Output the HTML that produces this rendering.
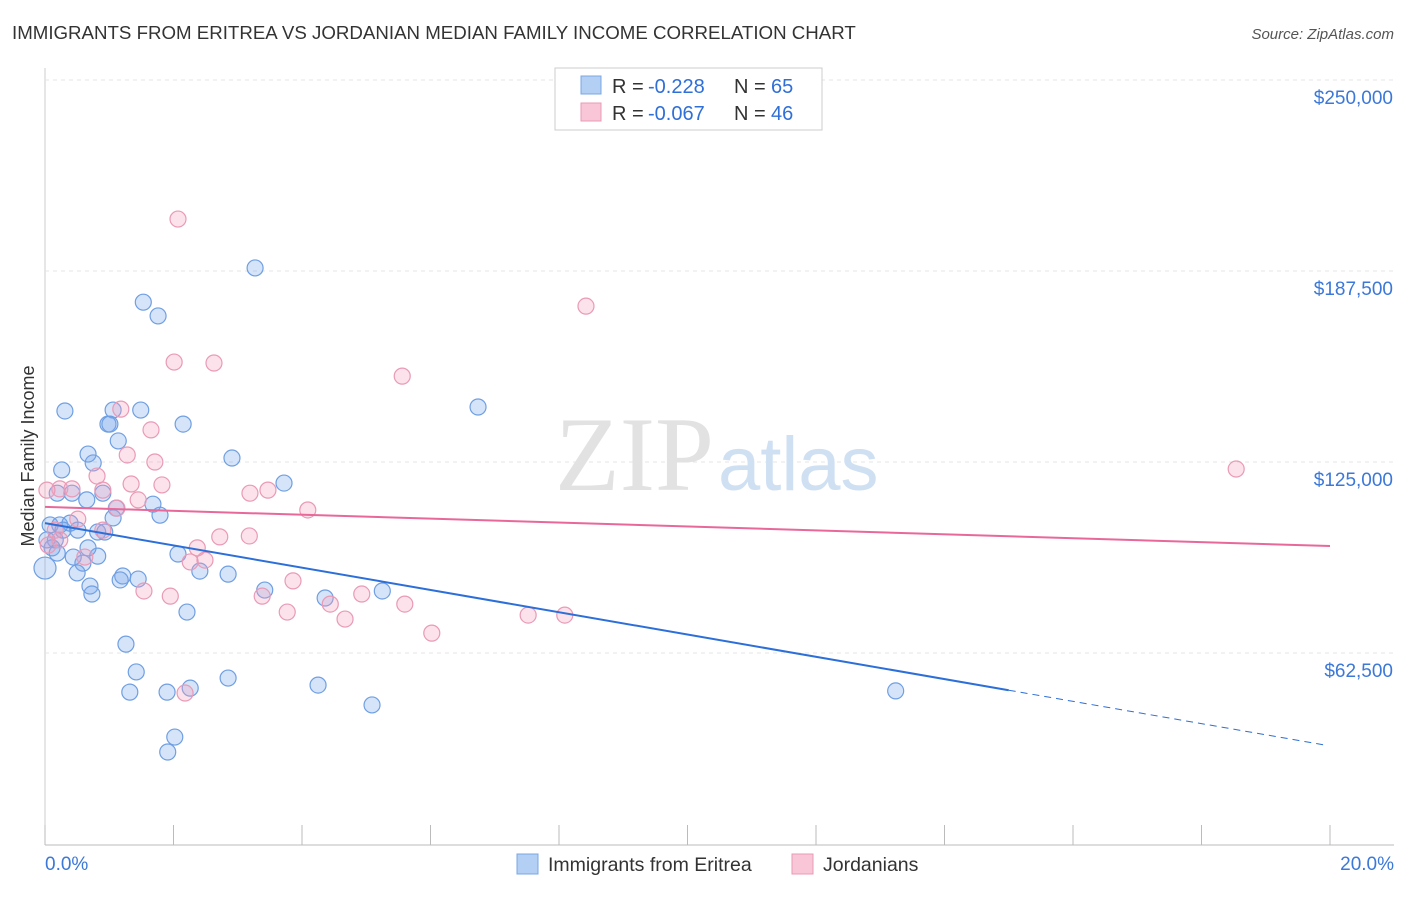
<!DOCTYPE html>
<html><head><meta charset="utf-8"><style>
body{margin:0;background:#fff;font-family:"Liberation Sans",sans-serif;}
</style></head><body>
<svg id="chart" width="1406" height="892" xmlns="http://www.w3.org/2000/svg">
<text x="12" y="39" font-size="18.7" fill="#333">IMMIGRANTS FROM ERITREA VS JORDANIAN MEDIAN FAMILY INCOME CORRELATION CHART</text>
<text x="1394" y="39" font-size="15" fill="#555" font-style="italic" text-anchor="end">Source: ZipAtlas.com</text>
<text transform="translate(34,456) rotate(-90)" font-size="18" fill="#333" text-anchor="middle">Median Family Income</text>
<g id="grid"></g>
<text x="714" y="490" font-size="106" font-family="Liberation Serif,serif" fill="#e2e2e2" text-anchor="end">ZIP</text>
<text x="718" y="490" font-size="76" fill="#cfe0f3">atlas</text>
<g id="pts"></g>
<g id="lines"></g>
<g>
<rect x="555" y="68" width="267" height="62" fill="#fff" stroke="#ccc"/>
<rect x="581" y="76" width="20" height="18" fill="#b3cff3" stroke="#7aa7e3"/>
<text x="612" y="93" font-size="20" fill="#333">R =</text>
<text x="648" y="93" font-size="20" fill="#2f6fd8">-0.228</text>
<text x="734" y="93" font-size="20" fill="#333">N =</text>
<text x="771" y="93" font-size="20" fill="#2f6fd8">65</text>
<rect x="581" y="103" width="20" height="18" fill="#f8c6d6" stroke="#e99ab6"/>
<text x="612" y="120" font-size="20" fill="#333">R =</text>
<text x="648" y="120" font-size="20" fill="#2f6fd8">-0.067</text>
<text x="734" y="120" font-size="20" fill="#333">N =</text>
<text x="771" y="120" font-size="20" fill="#2f6fd8">46</text>
</g>
<g>
<rect x="517" y="854" width="21" height="20" fill="#b3cff3" stroke="#7aa7e3"/>
<text x="548" y="871" font-size="19.5" fill="#333">Immigrants from Eritrea</text>
<rect x="792" y="854" width="21" height="20" fill="#f8c6d6" stroke="#e99ab6"/>
<text x="823" y="871" font-size="19.5" fill="#333">Jordanians</text>
</g>
<text x="45" y="870" font-size="19" fill="#3b78d8">0.0%</text>
<text x="1394" y="870" font-size="19" fill="#3b78d8" text-anchor="end">20.0%</text>
</svg>
<script>
const yTicks=[62500,125000,187500,250000];
const yTickLabels=["$62,500","$125,000","$187,500","$250,000"];
const blueX=[3.27,1.53,1.76,0.31,1.06,1.49,0.98,1.01,2.15,6.74,1.14,0.67,2.91,0.75,0.26,3.72,0.19,0.42,0.90,0.65,1.68,1.11,1.79,1.06,0.08,0.23,0.39,0.51,0.82,0.93,0.28,0.16,0.11,0.82,0.44,2.07,0.59,2.41,2.85,0.50,1.21,1.45,1.17,0.70,0.73,3.42,5.25,4.36,2.21,1.26,1.42,2.85,4.25,2.26,1.32,1.90,13.24,5.09,2.02,1.91,0.0,0.19,0.03,0.67];
const blueY=[188.5,177.3,172.8,141.7,142.0,142.0,137.4,137.4,137.4,143.0,131.9,127.6,126.3,124.7,122.4,118.1,114.8,114.8,114.8,112.6,111.2,109.9,107.6,106.7,104.4,104.4,105.0,102.7,102.1,102.1,102.7,99.5,96.9,94.2,93.9,94.9,91.9,89.3,88.3,88.7,87.7,86.7,86.4,84.4,81.8,83.1,82.8,80.5,75.9,65.4,56.3,54.3,52.0,51.0,49.7,49.7,50.1,45.5,35.0,30.1,90.3,95.2,99.5,96.9];
const pinkX=[2.07,8.42,2.01,2.63,5.56,1.18,1.65,1.28,1.71,18.54,0.81,1.34,1.82,0.23,0.42,0.03,0.90,3.19,3.47,1.45,4.09,1.12,0.51,0.90,0.16,3.18,2.72,2.37,0.62,2.26,2.49,3.86,1.54,1.95,3.38,4.93,5.60,4.44,3.77,4.67,6.02,7.52,8.09,2.18,0.05,0.23];
const pinkY=[204.5,176.0,157.7,157.4,153.1,142.3,135.5,127.3,125.0,122.7,120.4,117.8,117.5,116.2,116.2,115.8,115.8,114.8,115.8,112.6,109.3,109.9,106.3,102.7,102.7,100.8,100.5,96.9,93.9,92.3,92.9,86.1,82.8,81.1,81.1,81.8,78.5,78.5,75.9,73.6,69.0,74.9,74.9,49.4,97.8,99.5];
const blueTrend=[105.0,32.1];
const pinkTrend=[110.3,97.5];
const blueSolidEnd=15.0;
const NS="http://www.w3.org/2000/svg";
const xs=v=>45+v/20*1285;
const ys=v=>844-v/62.5*191;
function mk(t,a,p){const e=document.createElementNS(NS,t);for(const k in a)e.setAttribute(k,a[k]);p.appendChild(e);return e;}
const grid=document.getElementById('grid');
mk('line',{x1:45,y1:845,x2:1394,y2:845,stroke:'#bbb'},grid);
mk('line',{x1:45,y1:68,x2:45,y2:845,stroke:'#ccc'},grid);
mk('line',{x1:45,y1:80,x2:1394,y2:80,stroke:'#ddd','stroke-dasharray':'4,4'},grid);
yTicks.forEach((t,i)=>{const y=ys(t/1000);
const l=mk('line',{x1:45,y1:y,x2:1394,y2:y,stroke:'#e4e4e4','stroke-dasharray':'4,4'},grid);


const tx=mk('text',{x:1393,y:y+24,'font-size':19,fill:'#3b78d8','text-anchor':'end'},grid);
tx.textContent=yTickLabels[i];

});
for(let i=0;i<=10;i++){const x=xs(i*2);const l=mk('line',{x1:x,y1:825,x2:x,y2:845,stroke:'#bbb'},grid);

}
const pts=document.getElementById('pts');
blueX.forEach((x,i)=>{const c=mk('circle',{cx:xs(x),cy:ys(blueY[i]),r:x==0?11:8,fill:'rgba(120,165,235,0.3)',stroke:'#6f9fe2','stroke-width':1.2},pts);

});
pinkX.forEach((x,i)=>{const c=mk('circle',{cx:xs(x),cy:ys(pinkY[i]),r:8,fill:'rgba(245,160,190,0.3)',stroke:'#e99ab6','stroke-width':1.2},pts);

});
const lines=document.getElementById('lines');
const by=x=>blueTrend[0]+(blueTrend[1]-blueTrend[0])*x/20;
let l=mk('line',{x1:xs(0),y1:ys(by(0)),x2:xs(blueSolidEnd),y2:ys(by(blueSolidEnd)),stroke:'#2d6fd8','stroke-width':2},lines);


l=mk('line',{x1:xs(blueSolidEnd),y1:ys(by(blueSolidEnd)),x2:xs(19.95),y2:ys(by(19.95)),stroke:'#2d6fd8','stroke-width':1,'stroke-dasharray':'7,5'},lines);


l=mk('line',{x1:xs(0),y1:ys(pinkTrend[0]),x2:xs(20),y2:ys(pinkTrend[1]),stroke:'#e8689a','stroke-width':2},lines);


</script>
</body></html>
